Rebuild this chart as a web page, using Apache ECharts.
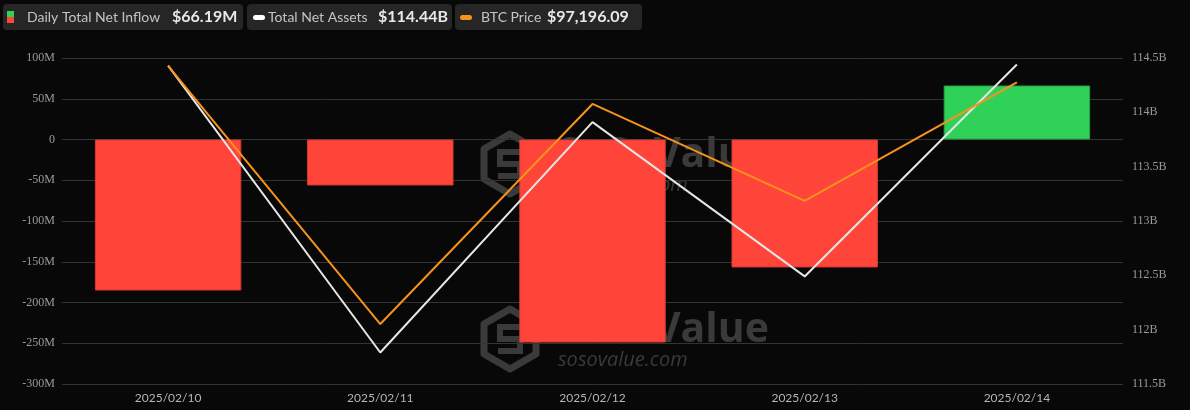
<!DOCTYPE html>
<html><head><meta charset="utf-8">
<script src="https://cdn.jsdelivr.net/npm/echarts@6/dist/echarts.min.js"></script>
<style>html,body{margin:0;padding:0;background:#080808;}#c{width:1190px;height:410px;}</style>
</head><body><div id="c"></div>
<script>
const categories = ['2025/02/10','2025/02/11','2025/02/12','2025/02/13','2025/02/14'];
const netInflowM = [-185.3, -56.4, -249.1, -157.0, 66.19];
const totalNetAssetsB = [114.43, 111.79, 113.91, 112.49, 114.44];
const btcPrice = [97300, 95677, 97061, 96451, 97196.09];
const leftTicks = {min: -300, max: 100, interval: 50};
const rightTicks = {min: 111.5, max: 114.5, interval: 0.5};
const legendTexts = [
  {label: 'Daily Total Net Inflow', value: '$66.19M'},
  {label: 'Total Net Assets', value: '$114.44B'},
  {label: 'BTC Price', value: '$97,196.09'}
];

const chart = echarts.init(document.getElementById('c'));
const wmColor = '#3a3a3a';
function watermark(cy) {
  return {
    type: 'group', z: -10, silent: true,
    children: [
      {type: 'polygon', shape: {points: [[510, cy-30],[536, cy-15],[536, cy+15],[510, cy+30],[484, cy+15],[484, cy-15]]},
       style: {fill: 'none', stroke: wmColor, lineWidth: 7, lineJoin: 'round'}},
      {type: 'polyline', shape: {points: [[522, cy-12],[500, cy-12],[500, cy],[520, cy],[520, cy+12],[498, cy+12]]},
       style: {fill: 'none', stroke: wmColor, lineWidth: 6}},
      {type: 'text', x: 558, y: cy - 9, style: {text: 'SoSoValue', font: 'bold 41px "Open Sans", sans-serif', fill: wmColor, verticalAlign: 'middle'}},
      {type: 'text', x: 558, y: cy + 21, style: {text: 'sosovalue.com', font: 'italic 20px "Open Sans", sans-serif', fill: wmColor, verticalAlign: 'middle'}}
    ]
  };
}
const lg = [];
const boxes = [[3, 240], [247, 205], [455, 187]];
boxes.forEach(([x, w]) => lg.push({type: 'rect', shape: {x: x, y: 4, width: w, height: 26, r: 4}, style: {fill: '#262626'}}));
lg.push({type: 'rect', shape: {x: 7, y: 11, width: 7, height: 6}, style: {fill: '#30d158'}});
lg.push({type: 'rect', shape: {x: 7, y: 17, width: 7, height: 6}, style: {fill: '#ff453a'}});
lg.push({type: 'rect', shape: {x: 253, y: 15, width: 12, height: 5, r: 2.5}, style: {fill: '#ffffff'}});
lg.push({type: 'rect', shape: {x: 460, y: 15, width: 12, height: 5, r: 2.5}, style: {fill: '#f7931a'}});
const labelX = [27, 268, 481];
const valueX = [172, 378, 547];
legendTexts.forEach((t, i) => {
  lg.push({type: 'text', x: labelX[i], y: 17, style: {text: t.label, font: '14px Lato, sans-serif', fill: '#c4c4c4', verticalAlign: 'middle'}});
  lg.push({type: 'text', x: valueX[i], y: 17, style: {text: t.value, font: 'bold 16px Lato, sans-serif', fill: '#e8e8e8', verticalAlign: 'middle'}});
});

chart.setOption({
  backgroundColor: '#080808',
  animation: false,
  grid: {left: 62, right: 67, top: 58, bottom: 26, containLabel: false},
  graphic: [watermark(164), watermark(339), {type: 'group', children: lg}],
  xAxis: {
    type: 'category', data: categories,
    axisLine: {show: false}, axisTick: {show: false},
    axisLabel: {color: '#b4b4b4', fontSize: 12, margin: 8, fontFamily: 'Lato, sans-serif'}
  },
  yAxis: [
    {type: 'value', min: leftTicks.min, max: leftTicks.max, interval: leftTicks.interval, position: 'left',
     axisLine: {show: false}, axisTick: {show: false},
     splitLine: {lineStyle: {color: '#333333', width: 1}},
     axisLabel: {color: '#9a9a9a', fontSize: 12, fontFamily: '"Liberation Serif", serif', margin: 7,
       formatter: v => v === 0 ? '0' : v + 'M'}},
    {type: 'value', min: rightTicks.min, max: rightTicks.max, interval: rightTicks.interval, position: 'right',
     axisLine: {show: false}, axisTick: {show: false}, splitLine: {show: false},
     axisLabel: {color: '#9a9a9a', fontSize: 12, fontFamily: '"Liberation Serif", serif', margin: 9,
       formatter: v => v + 'B'}},
    {type: 'value', min: 95300, max: 97350, show: false, splitLine: {show: false}}
  ],
  series: [
    {type: 'bar', name: 'Daily Total Net Inflow', yAxisIndex: 0, barWidth: '69%', z: 2,
     data: netInflowM.map(v => ({value: v, itemStyle: {color: v >= 0 ? '#30d158' : '#ff453a', borderColor: v >= 0 ? '#27a646' : '#d93a31', borderWidth: 1}}))},
    {type: 'line', name: 'Total Net Assets', yAxisIndex: 1, data: totalNetAssetsB, showSymbol: false, symbol: 'none', z: 4,
     lineStyle: {color: '#e6e6e6', width: 2}},
    {type: 'line', name: 'BTC Price', yAxisIndex: 2, data: btcPrice, showSymbol: false, symbol: 'none', z: 5,
     lineStyle: {color: '#f7931a', width: 2}}
  ]
});
</script></body></html>
